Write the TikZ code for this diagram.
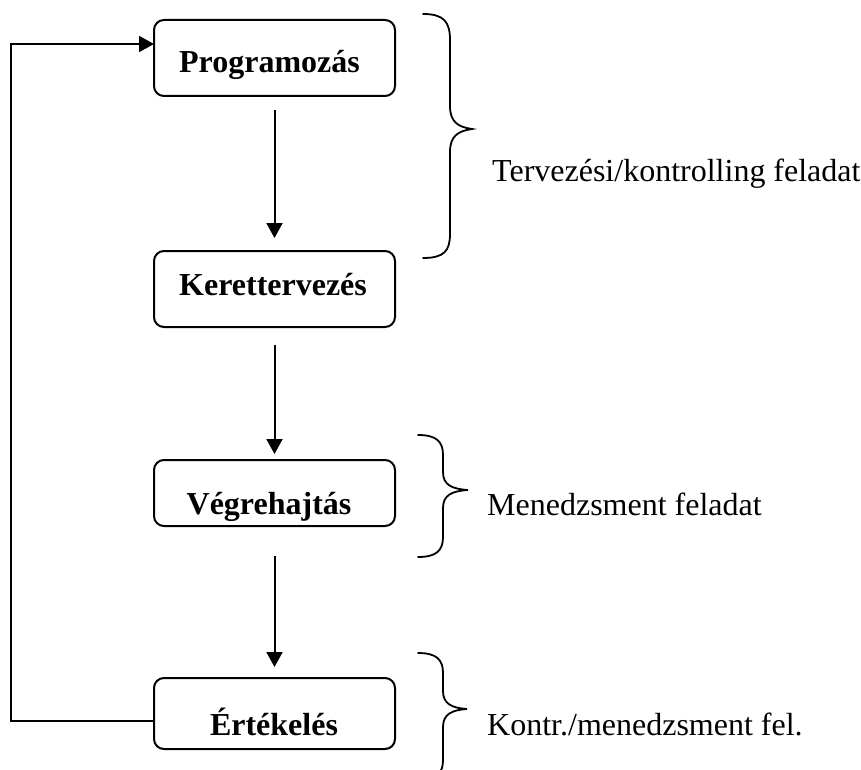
\documentclass[tikz,border=0pt]{standalone}
\usepackage{fontspec}
\setmainfont{Liberation Serif}
\usetikzlibrary{arrows.meta}
\begin{document}
\begin{tikzpicture}[x=1pt,y=-1pt,
  stagebox/.style={draw,line width=2pt,rounded corners=10pt,inner sep=0pt,outer sep=0pt,minimum width=241pt},
  stagetext/.style={anchor=base,inner sep=0pt,font=\fontsize{32}{36}\selectfont\bfseries},
  sidetext/.style={anchor=base west,inner sep=0pt,font=\fontsize{32}{36}\selectfont},
  flow/.style={line width=2pt,-{Triangle[length=15pt,width=16pt]}},
  bracepath/.style={line width=1.8pt,line cap=round}]
\useasboundingbox (0,0) rectangle (861,770);
\clip (0,0) rectangle (861,770);

% stage boxes
\node[stagebox,minimum height=76pt] (prog) at (274.5,58) {};
\node[stagebox,minimum height=76pt] (ker) at (274.5,289) {};
\node[stagebox,minimum height=66pt] (veg) at (274.5,493) {};
\node[stagebox,minimum height=71pt] (ert) at (274.5,713.5) {};

% stage labels
\node[stagetext] (tprog) at (269.5,72.5) {Programozás};
\node[stagetext] (tker) at (273,295) {Kerettervezés};
\node[stagetext] (tveg) at (269,514) {Végrehajtás};
\node[stagetext] (tert) at (274,735) {Értékelés};

% downward flow
\draw[flow] ([yshift=-14pt]prog.south) -- ([yshift=13pt]ker.north);
\draw[flow] ([yshift=-18pt]ker.south) -- ([yshift=6pt]veg.north);
\draw[flow] ([yshift=-30pt]veg.south) -- ([yshift=11pt]ert.north);

% feedback loop
\coordinate (fb) at (11,44);
\draw[flow] ([yshift=-7.5pt]ert.west) -| (fb) -- ([yshift=14pt]prog.west);

% braces
\draw[bracepath] (423,14) .. controls (444,14) and (450,22) .. (450,40)
  -- (450,106) .. controls (450,122) and (458,127) .. (472,129)
  .. controls (458,131) and (450,136) .. (450,152)
  -- (450,234) .. controls (450,251) and (444,258) .. (423,258);
\draw[bracepath] (418,435) .. controls (437,435) and (443,442) .. (443,455)
  -- (443,472) .. controls (443,485) and (452,489) .. (468,490)
  .. controls (452,491) and (443,495) .. (443,508)
  -- (443,537) .. controls (443,550) and (437,557) .. (418,557);
\draw[bracepath] (418,653) .. controls (437,653) and (443,660) .. (443,673)
  -- (443,691) .. controls (443,704) and (452,708) .. (467,709)
  .. controls (452,710) and (443,714) .. (443,727)
  -- (443,760) .. controls (443,773) and (437,780) .. (418,780);

% side labels
\node[sidetext] (s1) at (492,182) {Tervezési/kontrolling feladat};
\node[sidetext] (s2) at (487,515) {Menedzsment feladat};
\node[sidetext] (s3) at (487,735) {Kontr./menedzsment fel.};
\end{tikzpicture}
\end{document}
